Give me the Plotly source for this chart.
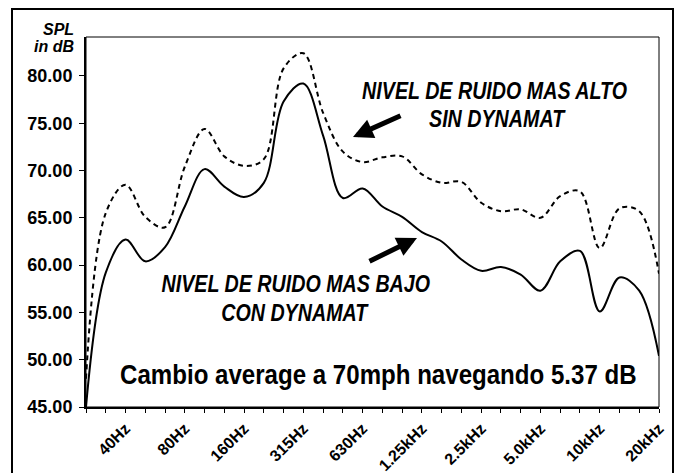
import plotly.graph_objects as go

# ---- data ----
BANDS = ["25Hz", "31.5Hz", "40Hz", "50Hz", "63Hz", "80Hz", "100Hz", "125Hz", "160Hz", "200Hz",
         "250Hz", "315Hz", "400Hz", "500Hz", "630Hz", "800Hz", "1kHz", "1.25kHz", "1.6kHz", "2kHz",
         "2.5kHz", "3.15kHz", "4kHz", "5kHz", "6.3kHz", "8kHz", "10kHz", "12.5kHz", "16kHz", "20kHz"]
TICK_TEXT = ["", "", "40Hz", "", "", "80Hz", "", "", "160Hz", "",
             "", "315Hz", "", "", "630Hz", "", "", "1.25kHz", "", "",
             "2.5kHz", "", "", "5.0kHz", "", "", "10kHz", "", "", "20kHz"]
SPL_SIN_DYNAMAT = [48.0, 65.5, 68.5, 65.1, 64.0, 70.4, 74.4, 71.5, 70.5, 71.2,
                   80.8, 82.4, 76.1, 72.0, 70.9, 71.4, 71.5, 69.6, 68.7, 68.8,
                   66.6, 65.7, 65.9, 65.0, 67.3, 67.8, 61.8, 66.0, 65.7, 59.1]
SPL_CON_DYNAMAT = [45.0, 59.2, 62.7, 60.4, 61.9, 66.2, 70.15, 68.3, 67.2, 68.7,
                   77.3, 79.2, 73.7, 67.1, 68.1, 66.2, 65.1, 63.5, 62.5, 60.6,
                   59.4, 59.8, 59.0, 57.3, 60.4, 61.5, 55.1, 58.7, 57.3, 50.4]
Y_TICKS = [45, 50, 55, 60, 65, 70, 75, 80]

FONT = "Liberation Sans, Arial, sans-serif"

fig = go.Figure()
fig.add_trace(go.Scatter(x=BANDS, y=SPL_SIN_DYNAMAT, mode="lines",
                         line=dict(color="black", width=2, dash="5px,4px", shape="spline", smoothing=1),
                         hoverinfo="skip", showlegend=False))
fig.add_trace(go.Scatter(x=BANDS, y=SPL_CON_DYNAMAT, mode="lines",
                         line=dict(color="black", width=2, shape="spline", smoothing=1),
                         hoverinfo="skip", showlegend=False))

L, R, T, B = 86, 659, 37, 407
W, H = 680, 473
PW, PH = R - L, B - T


def px(xp):
    return (xp - L) / PW


def py(yp):
    return (B - yp) / PH


annotations = []


def text(s, xc, yc, size, italic=True, anchor="center"):
    annotations.append(dict(
        text=s, x=px(xc), y=py(yc), xref="paper", yref="paper",
        xanchor=anchor, yanchor="middle", showarrow=False,
        font=dict(family=FONT, size=size, color="black", weight="bold",
                  style="italic" if italic else "normal")))


text("SPL", 76, 30, 16, anchor="right")
text("in dB", 76, 47, 16, anchor="right")
text("NIVEL DE RUIDO MAS ALTO", 494, 90, 24)
text("SIN DYNAMAT", 497, 119, 24)
text("NIVEL DE RUIDO MAS BAJO", 296, 283, 24)
text("CON DYNAMAT", 295, 312, 24)
text("Cambio average a 70mph navegando 5.37 dB", 378, 374, 28, italic=False)


def arrow(tail, tip):
    annotations.append(dict(
        text="", x=px(tip[0]), y=py(tip[1]), xref="paper", yref="paper",
        ax=tail[0] - tip[0], ay=tail[1] - tip[1], showarrow=True,
        arrowhead=2, arrowsize=0.8, arrowwidth=5, arrowcolor="black"))


arrow((402, 115), (353, 137))
arrow((368, 262), (417, 238))

shapes = [
    # outer frame
    dict(type="rect", xref="paper", yref="paper",
         x0=px(12), x1=px(673), y0=py(490), y1=py(9),
         line=dict(color="black", width=2), fillcolor="rgba(0,0,0,0)", layer="below"),
    # plot area border
    dict(type="rect", xref="paper", yref="paper", x0=0, x1=1, y0=0, y1=1,
         line=dict(color="black", width=1), fillcolor="rgba(0,0,0,0)"),
]

fig.update_layout(
    width=W, height=H,
    margin=dict(l=L, r=W - R, t=T, b=H - B, pad=0, autoexpand=False),
    paper_bgcolor="white", plot_bgcolor="white",
    annotations=annotations, shapes=shapes,
    hovermode=False,
    xaxis=dict(type="category", range=[0, len(BANDS) - 1], tickmode="array",
               tickvals=BANDS, ticktext=TICK_TEXT, tickangle=-45, automargin=False,
               ticks="outside", ticklen=4, tickwidth=1, tickcolor="black",
               showline=True, linecolor="black", linewidth=2, showgrid=False, zeroline=False,
               tickfont=dict(family=FONT, size=16, color="black", weight="bold")),
    yaxis=dict(range=[45, 84.12], tickmode="array", tickvals=Y_TICKS, tickformat=".2f",
               automargin=False, ticklabelstandoff=3,
               ticks="outside", ticklen=5, tickwidth=1, tickcolor="black",
               showline=True, linecolor="black", linewidth=2, showgrid=False, zeroline=False,
               tickfont=dict(family=FONT, size=18, color="black", weight="bold")),
)

# remove the page's default body margin and give the annotation texts the
# condensed look of the original typeface
POST = """
document.body.style.margin = '0';
document.body.style.padding = '0';
function squeezeTexts() {
  document.querySelectorAll('text.annotation-text').forEach(function (t) {
    var s = t.textContent || '';
    var k = null;
    if (s.indexOf('NIVEL') === 0 || s.indexOf('SIN') === 0 || s.indexOf('CON') === 0) k = 0.82;
    else if (s.indexOf('Cambio') === 0) k = 0.86;
    if (k) {
      t.style.transformBox = 'fill-box';
      t.style.transformOrigin = 'center';
      t.style.transform = 'scaleX(' + k + ')';
    }
  });
}
squeezeTexts();
var gd = document.getElementById('{plot_id}');
if (gd && gd.on) { gd.on('plotly_afterplot', squeezeTexts); }
"""

fig.write_html("out.html", config={"displayModeBar": False}, post_script=POST)
